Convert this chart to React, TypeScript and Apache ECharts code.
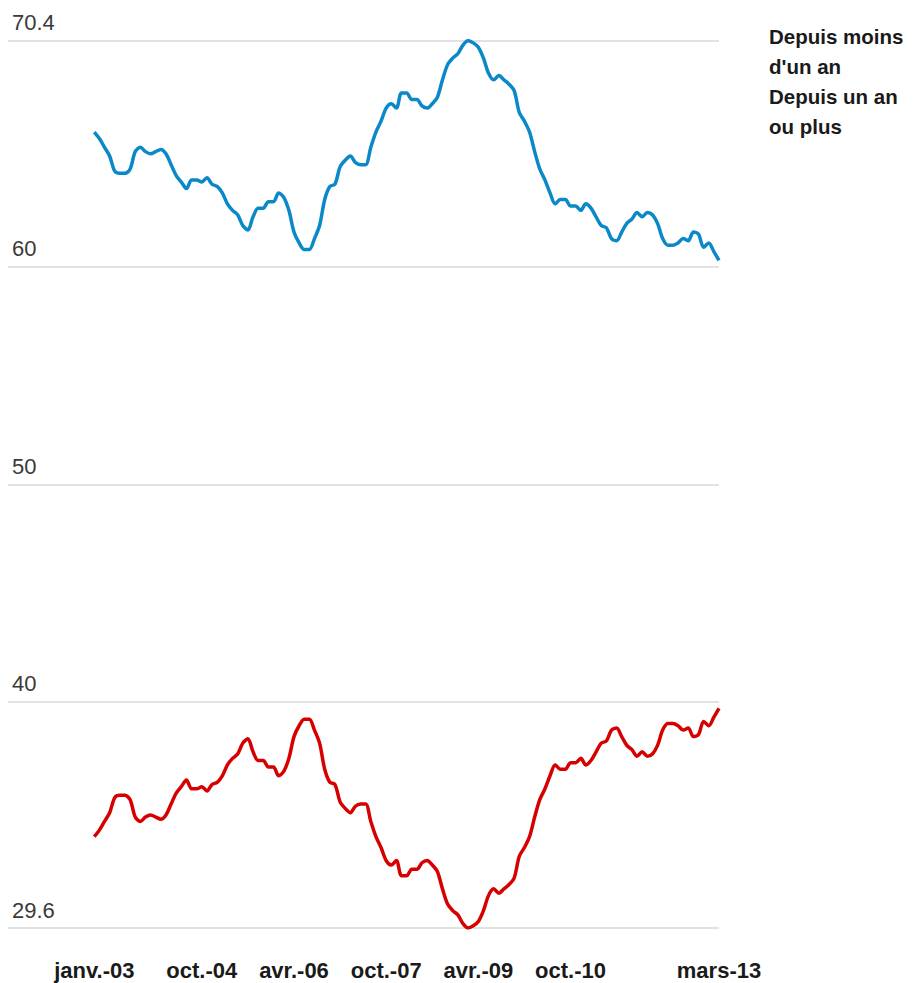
import React, { useEffect, useRef } from "react";
import * as echarts from "echarts";

const monthNames = ["janv.", "févr.", "mars", "avr.", "mai", "juin", "juil.", "août", "sept.", "oct.", "nov.", "déc."];
const startYear = 2003;
const monthCount = 123;
const months: string[] = Array.from({ length: monthCount }, (_, i) => {
  const y = startYear + Math.floor(i / 12);
  return monthNames[i % 12] + "-" + String(y % 100).padStart(2, "0");
});

const tickLabels = ["janv.-03", "oct.-04", "avr.-06", "oct.-07", "avr.-09", "oct.-10", "mars-13"];
const yTicks = [29.6, 40, 50, 60, 70.4];

const seriesNames = ["Depuis moins\nd'un an", "Depuis un an\nou plus"];

const moinsUnAn = [
  66.2, 65.9, 65.5, 65.1, 64.4, 64.3, 64.3, 64.5, 65.3, 65.5,
  65.3, 65.2, 65.3, 65.4, 65.2, 64.7, 64.2, 63.9, 63.6, 64.0,
  64.0, 63.9, 64.1, 63.8, 63.7, 63.4, 62.9, 62.6, 62.4, 61.9,
  61.7, 62.3, 62.7, 62.7, 63.0, 63.0, 63.4, 63.2, 62.6, 61.6,
  61.1, 60.8, 60.8, 61.3, 61.9, 63.1, 63.7, 63.8, 64.6, 64.9,
  65.1, 64.8, 64.7, 64.7, 65.5, 66.2, 66.7, 67.3, 67.5, 67.3,
  68.0, 68.0, 67.7, 67.7, 67.4, 67.3, 67.5, 67.8, 68.6, 69.3,
  69.6, 69.8, 70.2, 70.4, 70.3, 70.1, 69.6, 68.9, 68.6, 68.8,
  68.6, 68.4, 68.1, 67.1, 66.7, 66.2, 65.3, 64.5, 64.0, 63.4,
  62.9, 63.1, 63.1, 62.8, 62.8, 62.6, 62.9, 62.7, 62.3, 61.9,
  61.8, 61.3, 61.2, 61.6, 62.0, 62.2, 62.5, 62.3, 62.5, 62.4,
  62.0, 61.3, 61.0, 61.0, 61.1, 61.3, 61.2, 61.6, 61.5, 60.9,
  61.1, 60.7, 60.3,
];

const unAnOuPlus = [
  33.8, 34.1, 34.5, 34.9, 35.6, 35.7, 35.7, 35.5, 34.7, 34.5,
  34.7, 34.8, 34.7, 34.6, 34.8, 35.3, 35.8, 36.1, 36.4, 36.0,
  36.0, 36.1, 35.9, 36.2, 36.3, 36.6, 37.1, 37.4, 37.6, 38.1,
  38.3, 37.7, 37.3, 37.3, 37.0, 37.0, 36.6, 36.8, 37.4, 38.4,
  38.9, 39.2, 39.2, 38.7, 38.1, 36.9, 36.3, 36.2, 35.4, 35.1,
  34.9, 35.2, 35.3, 35.3, 34.5, 33.8, 33.3, 32.7, 32.5, 32.7,
  32.0, 32.0, 32.3, 32.3, 32.6, 32.7, 32.5, 32.2, 31.4, 30.7,
  30.4, 30.2, 29.8, 29.6, 29.7, 29.9, 30.4, 31.1, 31.4, 31.2,
  31.4, 31.6, 31.9, 32.9, 33.3, 33.8, 34.7, 35.5, 36.0, 36.6,
  37.1, 36.9, 36.9, 37.2, 37.2, 37.4, 37.1, 37.3, 37.7, 38.1,
  38.2, 38.7, 38.8, 38.4, 38.0, 37.8, 37.5, 37.7, 37.5, 37.6,
  38.0, 38.7, 39.0, 39.0, 38.9, 38.7, 38.8, 38.4, 38.5, 39.1,
  38.9, 39.3, 39.7,
];

export default function App() {
  const ref = useRef<HTMLDivElement>(null);
  useEffect(() => {
    if (!ref.current) return;
    const chart = echarts.init(ref.current, null, { renderer: "svg" });
    const tickIdx = tickLabels.map((t) => months.indexOf(t));
    const toPairs = (arr: number[]) => arr.map((v, i) => [i, v]);
    chart.setOption({
      animation: false,
      backgroundColor: "#ffffff",
      textStyle: { fontFamily: "Liberation Sans, Arial, sans-serif" },
      grid: {
        left: 8,
        right: 195,
        top: 40.7,
        bottom: 55,
        containLabel: false,
        outerBoundsMode: "none",
      },
      legend: {
        show: true,
        orient: "vertical",
        left: 759,
        top: 16,
        icon: "none",
        itemWidth: 0,
        itemHeight: 0,
        itemGap: 0,
        selectedMode: false,
        data: seriesNames,
        textStyle: {
          fontSize: 20.5,
          fontWeight: "bold",
          color: "#1a1a1a",
          lineHeight: 30,
          fontFamily: "Liberation Sans, Arial, sans-serif",
        },
      },
      xAxis: {
        type: "value",
        min: -16.85,
        max: monthCount - 1,
        axisLine: { show: false },
        axisTick: { show: false, customValues: tickIdx },
        splitLine: { show: false },
        axisLabel: {
          customValues: tickIdx,
          formatter: (v: number) => months[Math.round(v)] ?? "",
          fontSize: 22,
          fontWeight: "bold",
          color: "#1a1a1a",
          margin: 31,
          fontFamily: "Liberation Sans, Arial, sans-serif",
        },
      },
      yAxis: {
        type: "value",
        min: 29.6,
        max: 70.4,
        axisLine: { show: false },
        axisTick: { show: false, customValues: yTicks },
        splitLine: { show: true, lineStyle: { color: "#d9d9d9", width: 1.5 } },
        axisLabel: {
          customValues: yTicks,
          inside: true,
          align: "left",
          verticalAlign: "bottom",
          margin: 4,
          fontSize: 22,
          lineHeight: 22,
          padding: [0, 0, 7, 0],
          color: "#3a3a3a",
          formatter: (v: number) => String(v),
          fontFamily: "Liberation Sans, Arial, sans-serif",
        },
      },
      series: [
        {
          name: seriesNames[0],
          type: "line",
          data: toPairs(moinsUnAn),
          showSymbol: false,
          smooth: 0.3,
          lineStyle: { color: "#0a88c8", width: 3.5 },
          itemStyle: { color: "#0a88c8" },
        },
        {
          name: seriesNames[1],
          type: "line",
          data: toPairs(unAnOuPlus),
          showSymbol: false,
          smooth: 0.3,
          lineStyle: { color: "#d70000", width: 3.5 },
          itemStyle: { color: "#d70000" },
        },
      ],
    });
    return () => chart.dispose();
  }, []);
  return (
    <div
      ref={ref}
      style={{ position: "absolute", left: 0, top: 0, width: 914, height: 983 }}
    />
  );
}
